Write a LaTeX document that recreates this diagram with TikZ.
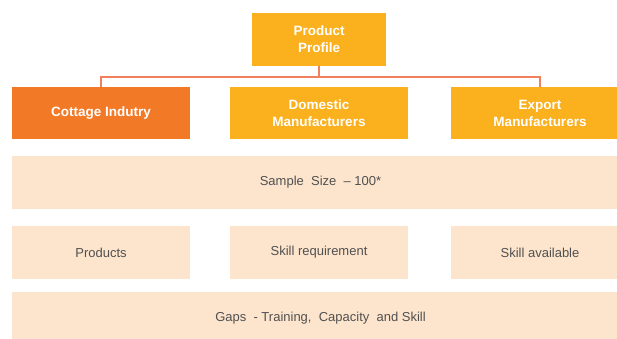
\documentclass[tikz,border=0pt]{standalone}
\usepackage{fontspec}
\setmainfont{Liberation Sans}
\usetikzlibrary{positioning}
\definecolor{amber}{RGB}{251,176,30}
\definecolor{tangerine}{RGB}{242,121,38}
\definecolor{peach}{RGB}{253,229,205}
\definecolor{salmon}{RGB}{242,128,92}
\definecolor{ink}{RGB}{80,80,80}
\tikzset{
  link/.style={draw=salmon,line width=1.4pt},
  headbox/.style={fill=amber,text=white,align=center,inner sep=0pt,outer sep=0pt,
                  font=\fontsize{13.5}{17}\selectfont\bfseries,
                  minimum width=178pt,minimum height=52pt},
  hotbox/.style={headbox,fill=tangerine},
  infobox/.style={fill=peach,text=ink,align=center,inner sep=0pt,outer sep=0pt,
                  font=\fontsize{13}{15}\selectfont,
                  minimum width=178pt,minimum height=53pt},
  bandbox/.style={infobox,minimum width=617pt}
}
\begin{document}
\begin{tikzpicture}[x=1pt,y=1pt,node distance=17pt and 40pt]
  \clip (0,0) rectangle (617,-338);
  \node[headbox,minimum width=134pt,minimum height=53pt] (profile) at (319,-39.5) {Product\\Profile};
  \node[hotbox,anchor=north west] (cottage) at (12,-87) {Cottage Indutry};
  \node[headbox,right=of cottage] (domestic) {Domestic\\Manufacturers};
  \node[headbox,right=43pt of domestic] (export) {Export\\Manufacturers};
  \node[bandbox,below=17pt of cottage.south west,anchor=north west] (sample) {Sample\ \ Size\ \ -- 100*};
  \node[infobox,below=17pt of sample.south west,anchor=north west] (products) {Products};
  \node[infobox,right=of products] (skillreq) {Skill requirement};
  \node[infobox,right=43pt of skillreq] (skillav) {Skill available};
  \node[bandbox,below=13pt of products.south west,anchor=north west] (gaps) {Gaps\ \ - Training,\ \ Capacity\ \ and Skill};
  % tree links
  \draw[link] (profile.south) -- ++(0,-11) coordinate (fork);
  \draw[link] (cottage.north) |- (fork) -| (export.north);
\end{tikzpicture}
\end{document}
